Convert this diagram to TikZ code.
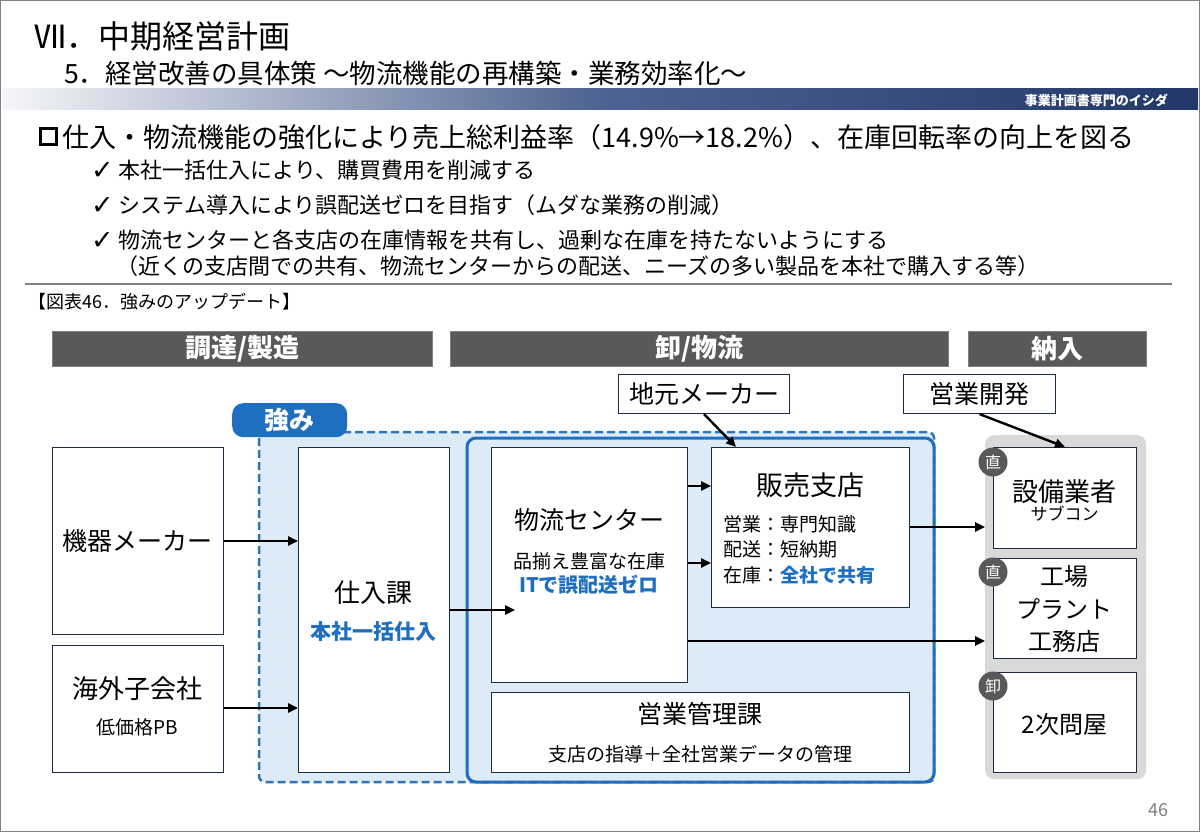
\documentclass[tikz,border=0pt]{standalone}
\usepackage{fontspec}
\setmainfont{Noto Sans CJK JP}
\newfontfamily\symfont{DejaVu Sans}
\usetikzlibrary{arrows.meta,calc}
\definecolor{navyc}{HTML}{22386A}
\definecolor{midnavy}{HTML}{4E6391}
\definecolor{lightnavy}{HTML}{F5F6F9}
\definecolor{boxc}{HTML}{1F2A44}
\definecolor{hdrc}{HTML}{595959}
\definecolor{hdre}{HTML}{808080}
\definecolor{bluec}{HTML}{1F6FC0}
\definecolor{dashc}{HTML}{2E75B6}
\definecolor{lightb}{HTML}{DDEBF7}
\definecolor{panelc}{HTML}{D9D9D9}
\definecolor{rulec}{HTML}{7F7F7F}
\definecolor{pgc}{HTML}{808080}
\newcommand\fsz[2]{\fontsize{#1}{#2}\selectfont}
\newcommand\chkmark{{\symfont\fontsize{27}{27}\selectfont\raisebox{-1pt}{✓}}}
\begin{document}
\begin{tikzpicture}[x=1pt,y=-1pt,
 box/.style={draw=boxc,line width=1.1pt,fill=white,anchor=north west,inner sep=0pt},
 hdr/.style={draw=hdre,line width=1pt,fill=hdrc,anchor=north west,inner sep=0pt,text=white,font=\bfseries\fsz{26}{29}},
 lbl/.style={inner sep=0pt,anchor=center},
 arr/.style={line width=2.4pt,-{Triangle[length=10pt,width=9pt]}},
 circ/.style={circle,fill=hdrc,text=white,minimum size=29pt,inner sep=0pt,font=\fsz{16}{18}},
 mainlbl/.style={lbl,font=\fsz{25}{30}},
 sublbl/.style={lbl,font=\fsz{19}{23}},
 bluebold/.style={lbl,font=\bfseries\fsz{20}{24},text=bluec},
 linetext/.style={inner sep=0pt,anchor=west},
 chk/.style={linetext,font=\fsz{22}{26}}]
\useasboundingbox (0,0) rectangle (1200,832);
\fill[white] (0,0) rectangle (1200,832);
\draw[pgc,line width=1pt] (0.5,0.5) rectangle (1199.5,831.5);

% header
\node[linetext,font=\fsz{32}{36}] (title) at (34,36) {Ⅶ．中期経営計画};
\node[linetext,font=\fsz{26.5}{30}] (subtitle) at (64,73) {5．経営改善の具体策 ～物流機能の再構築・業務効率化～};
\shade[left color=lightnavy,right color=midnavy] (2,89) rectangle (600,110);
\shade[left color=midnavy,right color=navyc] (600,89) rectangle (1198,110);
\node[anchor=east,inner sep=0pt,text=white,font=\bfseries\fsz{13}{15}] (brand) at (1168,100) {事業計画書専門のイシダ};

% bullets
\node[draw=black,line width=3pt,minimum size=16pt,inner sep=0pt] (sq) at (48,137) {};
\node[linetext,font=\fsz{27}{31}] (main) at (62,137) {仕入・物流機能の強化により売上総利益率（14.9\%→18.2\%）、在庫回転率の向上を図る};
\node[chk] (c1) at (91,170) {\chkmark\ 本社一括仕入により、購買費用を削減する};
\node[chk] (c2) at (91,205) {\chkmark\ システム導入により誤配送ゼロを目指す（ムダな業務の削減）};
\node[chk] (c3) at (91,240) {\chkmark\ 物流センターと各支店の在庫情報を共有し、過剰な在庫を持たないようにする};
\node[chk] (c4) at (116,266) {（近くの支店間での共有、物流センターからの配送、ニーズの多い製品を本社で購入する等）};
\coordinate (r1) at (25,284);
\coordinate (r2) at (1172,284);
\draw[rulec,line width=2pt] (r1) -- (r2);
\node[linetext,font=\fsz{18}{21}] (cap) at (28,302) {【図表46．強みのアップデート】};

% column headers
\node[hdr,minimum width=380pt,minimum height=35pt] (h1) at (52,331) {調達/製造};
\node[hdr,minimum width=498pt,minimum height=35pt] (h2) at (450,331) {卸/物流};
\node[hdr,minimum width=178pt,minimum height=35pt] (h3) at (968,331) {納入};

% regions
\fill[lightb,rounded corners=6pt] (259,432) rectangle (934,782);
\draw[dashc,line width=2.5pt,dash pattern=on 8pt off 4pt,rounded corners=6pt] (259,432) rectangle (934,782);
\draw[bluec,line width=3pt,rounded corners=9pt] (467,438) rectangle (934,782);
\node[fill=bluec,rounded corners=11pt,minimum width=115pt,minimum height=34pt,anchor=north west,inner sep=0pt,text=white,font=\bfseries\fsz{25}{28}] (tsuyomi) at (232,403) {強み};
\node[fill=panelc,rounded corners=9pt,minimum width=161pt,minimum height=344pt,anchor=north west,inner sep=0pt] (panel) at (985,435) {};

% top boxes
\node[box,minimum width=171pt,minimum height=39pt,font=\fsz{25}{30}] (jimoto) at (618,374) {地元メーカー};
\node[box,minimum width=152pt,minimum height=39pt,font=\fsz{25}{30}] (eigyo) at (903,374) {営業開発};

% boxes
\node[box,minimum width=171pt,minimum height=187pt] (kiki) at (52,447) {};
\node[box,minimum width=171pt,minimum height=127pt] (kaigai) at (52,645) {};
\node[box,minimum width=151pt,minimum height=325pt] (shiire) at (298,447) {};
\node[box,minimum width=196pt,minimum height=235pt] (butsu) at (491,447) {};
\node[box,minimum width=198pt,minimum height=160pt] (hanbai) at (711,447) {};
\node[box,minimum width=418pt,minimum height=80pt] (kanri) at (491,692) {};
\node[box,minimum width=143pt,minimum height=101pt] (setsubi) at (993,447) {};
\node[box,minimum width=143pt,minimum height=100pt] (kojo) at (993,558) {};
\node[box,minimum width=143pt,minimum height=100pt] (ton) at (993,672) {};

% labels
\node[mainlbl] (kikiT) at (137.5,541) {機器メーカー};
\node[mainlbl,font=\fsz{26}{30}] (kaigaiT) at (137.5,689) {海外子会社};
\node[sublbl] (kaigaiS) at (137.5,727) {低価格PB};
\node[mainlbl,font=\fsz{26}{30}] (shiireT) at (373.5,593) {仕入課};
\node[bluebold,font=\bfseries\fsz{21}{24}] (shiireS) at (373.5,632) {本社一括仕入};
\node[mainlbl] (butsuT) at (589,520) {物流センター};
\node[sublbl] (butsuS) at (589,561) {品揃え豊富な在庫};
\node[bluebold] (butsuB) at (589,585) {ITで誤配送ゼロ};
\node[lbl,font=\fsz{27}{31}] (hanbaiT) at (810,485) {販売支店};
\node[sublbl,anchor=west] (hanbai1) at (723,524) {営業：専門知識};
\node[sublbl,anchor=west] (hanbai2) at (723,549) {配送：短納期};
\node[sublbl,anchor=west] (hanbai3) at (723,575) {在庫：{\bfseries\color{bluec}全社で共有}};
\node[mainlbl] (kanriT) at (700,714) {営業管理課};
\node[sublbl] (kanriS) at (700,754) {支店の指導＋全社営業データの管理};
\node[lbl,font=\fsz{26}{30}] (setsubiT) at (1064.5,492) {設備業者};
\node[lbl,font=\fsz{17}{20}] (setsubiS) at (1064.5,514) {サブコン};
\node[lbl,font=\fsz{24}{28}] (kojo1) at (1064.5,577) {工場};
\node[lbl,font=\fsz{24}{28}] (kojo2) at (1064.5,609) {プラント};
\node[lbl,font=\fsz{24}{28}] (kojo3) at (1064.5,641) {工務店};
\node[lbl,font=\fsz{24}{28}] (tonT) at (1064.5,724) {2次問屋};

% circles
\node[circ] (ci1) at (993,462) {直};
\node[circ] (ci2) at (993,572) {直};
\node[circ] (ci3) at (993,686) {卸};

% arrows
\coordinate (ya) at (0,541);
\coordinate (yb) at (0,708);
\coordinate (yc) at (0,610);
\coordinate (yd) at (0,486);
\coordinate (ye) at (0,563);
\coordinate (yf) at (0,527);
\coordinate (yg) at (0,641);
\draw[arr] (kiki.east |- ya) -- (shiire.west |- ya);
\draw[arr] (kaigai.east |- yb) -- (shiire.west |- yb);
\draw[arr] (shiire.east |- yc) -- ($(butsu.west |- yc)+(24,0)$);
\draw[arr] (butsu.east |- yd) -- (hanbai.west |- yd);
\draw[arr] (butsu.east |- ye) -- (hanbai.west |- ye);
\draw[arr] (hanbai.east |- yf) -- (panel.west |- yf);
\draw[arr] (butsu.east |- yg) -- (panel.west |- yg);
\draw[arr] (jimoto.south) -- ($(hanbai.north west)+(25,0)$);
\draw[arr] (eigyo.south) -- (setsubi.north);

\node[text=pgc,inner sep=0pt,font=\fsz{18}{20}] (pg) at (1158,810) {46};
\end{tikzpicture}
\end{document}
